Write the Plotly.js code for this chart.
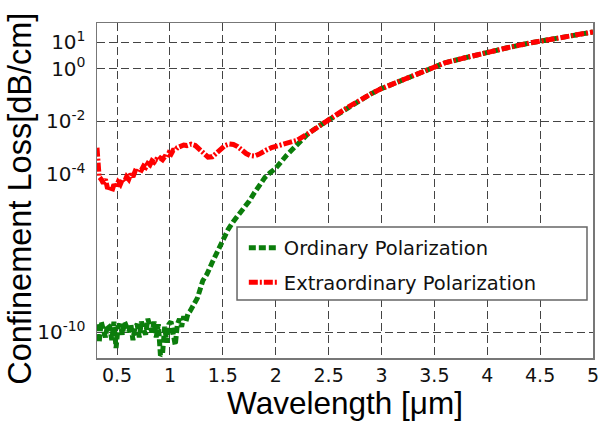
<!DOCTYPE html>
<html>
<head>
<meta charset="utf-8">
<script src="https://cdn.plot.ly/plotly-3.0.1.min.js"></script>
<style>html,body{margin:0;padding:0;background:#fff;}#chart{width:602px;height:421px;}</style>
</head>
<body>
<div id="chart"></div>
<script>
// Ordinary polarization: wavelength [um] and confinement loss [dB/cm]
const ordWavelength = [0.31,0.33,0.35,0.37,0.39,0.41,0.43,0.45,0.47,0.49,0.51,0.53,0.55,0.57,0.59,0.61,0.63,0.65,0.67,0.69,0.71,0.73,0.75,0.77,0.79,0.81,0.83,0.85,0.87,0.89,0.91,0.93,0.95,0.97,0.99,1.01,1.03,1.05,1.07,1.09,1.11,1.13,1.15,1.17,1.19,1.22,1.26,1.31,1.35,1.40,1.45,1.50,1.55,1.60,1.65,1.70,1.75,1.80,1.85,1.90,1.95,2.0,2.1,2.2,2.3,2.4,2.5,2.6,2.7,2.8,2.9,3.0,3.2,3.4,3.6,3.8,4.0,4.2,4.4,4.6,4.8,5.0];
const ordLoss = [2.0e-10,4.0e-11,2.5e-10,1.3e-10,6.3e-11,2.0e-10,1.6e-10,5.0e-11,2.5e-10,2.5e-11,1.6e-10,2.0e-10,8.0e-11,2.5e-10,1.3e-10,1.0e-10,2.0e-10,5.0e-11,1.6e-10,2.0e-10,6.3e-11,2.5e-10,1.3e-10,8.0e-11,3.2e-10,1.6e-10,1.0e-10,2.5e-10,6.3e-11,2.0e-10,1.3e-11,1.6e-11,1.6e-10,4.0e-11,2.0e-10,2.5e-10,8.0e-11,3.2e-11,2.0e-10,3.2e-10,1.6e-10,4.0e-10,2.5e-10,5.0e-10,6.3e-10,1.0e-9,2.0e-9,8.9e-9,1.6e-8,4.5e-8,1.26e-7,3.5e-7,7.9e-7,1.6e-6,2.8e-6,5.0e-6,9.5e-6,2.0e-5,4.2e-5,7.6e-5,1.15e-4,1.66e-4,5.0e-4,1.26e-3,3.2e-3,6.3e-3,1.12e-2,2.1e-2,3.8e-2,6.6e-2,0.11,0.174,0.38,0.85,1.66,2.63,4.27,6.3,9.3,13.2,18.2,24.5];

// Extraordinary polarization
const extWavelength = [0.31,0.315,0.32,0.33,0.35,0.37,0.39,0.41,0.43,0.45,0.47,0.49,0.51,0.53,0.55,0.57,0.59,0.61,0.63,0.65,0.67,0.69,0.71,0.73,0.75,0.77,0.79,0.81,0.83,0.85,0.87,0.89,0.91,0.93,0.95,0.97,0.99,1.01,1.03,1.05,1.07,1.09,1.11,1.13,1.16,1.20,1.24,1.28,1.32,1.36,1.40,1.44,1.48,1.52,1.56,1.60,1.64,1.68,1.72,1.76,1.80,1.84,1.88,1.92,1.96,2.0,2.1,2.2,2.3,2.4,2.5,2.6,2.7,2.8,2.9,3.0,3.2,3.4,3.6,3.8,4.0,4.2,4.4,4.6,4.8,5.0];
const extLoss = [1.0e-3,2.5e-4,1.8e-4,7.9e-5,6.3e-5,4.5e-5,6.3e-5,2.8e-5,3.5e-5,2.2e-5,4.0e-5,3.2e-5,5.0e-5,4.0e-5,6.3e-5,5.0e-5,7.9e-5,6.3e-5,1.0e-4,7.9e-5,1.26e-4,1.12e-4,1.58e-4,1.41e-4,2.0e-4,1.78e-4,2.5e-4,2.2e-4,3.2e-4,2.8e-4,3.5e-4,3.2e-4,4.0e-4,3.5e-4,4.5e-4,4.2e-4,6.3e-4,5.6e-4,7.9e-4,7.9e-4,1.0e-3,1.05e-3,1.12e-3,1.26e-3,1.2e-3,1.35e-3,1.2e-3,8.3e-4,5.6e-4,4.4e-4,4.5e-4,6.0e-4,8.9e-4,1.2e-3,1.38e-3,1.32e-3,1.1e-3,7.9e-4,6.0e-4,5.0e-4,4.8e-4,5.6e-4,7.1e-4,8.5e-4,1.0e-3,1.1e-3,1.41e-3,1.9e-3,3.3e-3,6.3e-3,1.12e-2,2.1e-2,3.8e-2,6.6e-2,0.11,0.174,0.38,0.85,1.66,2.63,4.27,6.3,9.3,13.2,18.2,24.5];

const yTickVals = [1e-10,1e-4,1e-2,1,10];
const yTickText = ['10<sup>-10</sup>','10<sup>-4</sup>','10<sup>-2</sup>','10<sup>0</sup>','10<sup>1</sup>'];
const xTickVals = [0.5,1,1.5,2,2.5,3,3.5,4,4.5,5];
const xTickText = ['0.5','1','1.5','2','2.5','3','3.5','4','4.5','5'];

const traces = [
  {x: ordWavelength, y: ordLoss, type: 'scatter', mode: 'lines', name: 'Ordinary Polarization',
   legendgroup: 'a', line: {color: '#0b7d0b', width: 5, dash: '7px,3px'}},
  {x: extWavelength, y: extLoss, type: 'scatter', mode: 'lines', name: 'Extraordinary Polarization',
   legendgroup: 'b', line: {color: '#ff0000', width: 5, dash: '9px,2px,2px,2px'}}
];

const layout = {
  width: 602, height: 421,
  margin: {l: 97, r: 9, t: 23, b: 63},
  paper_bgcolor: '#fff', plot_bgcolor: '#fff',
  showlegend: true,
  legend: {x: 0.296, y: 0.386, xanchor: 'left', yanchor: 'top', bgcolor: 'rgba(0,0,0,0)',
           borderwidth: 0, tracegroupgap: 6, itemwidth: 30,
           font: {family: 'DejaVu Sans', size: 19.5, color: '#111'}},
  shapes: [
    {type: 'rect', xref: 'paper', yref: 'paper', x0: 0.2823, x1: 0.9879, y0: 0.1731, y1: 0.391,
     line: {color: '#666', width: 1.5}, fillcolor: '#fff', layer: 'above'}
  ],
  annotations: [
    {text: 'Confinement Loss[dB/cm]', textangle: -90, xref: 'paper', yref: 'paper',
     x: -0.154, y: 0.474, xanchor: 'center', yanchor: 'middle', showarrow: false,
     font: {family: 'Liberation Sans', size: 32.5, color: '#000'}}
  ],
  xaxis: {range: [0.31, 5.0], tickvals: xTickVals, ticktext: xTickText, ticks: '',
          showgrid: true, gridcolor: '#444', griddash: '8px,4px', gridwidth: 1,
          showline: true, mirror: true, linecolor: '#777', linewidth: 1.5, zeroline: false,
          tickfont: {family: 'DejaVu Sans', size: 19, color: '#111'},
          title: {text: 'Wavelength [\u03bcm]', font: {family: 'Liberation Sans', size: 31.5, color: '#000'}, standoff: 5}},
  yaxis: {type: 'log', range: [-10.98, 1.73], tickvals: yTickVals, ticktext: yTickText, ticks: '',
          showgrid: true, gridcolor: '#444', griddash: '8px,4px', gridwidth: 1,
          showline: true, mirror: true, linecolor: '#777', linewidth: 1.5, zeroline: false,
          ticklabelstandoff: 6,
          tickfont: {family: 'DejaVu Sans', size: 20, color: '#111'}}
};

Plotly.newPlot('chart', traces, layout, {displayModeBar: false, staticPlot: true});
</script>
</body>
</html>
